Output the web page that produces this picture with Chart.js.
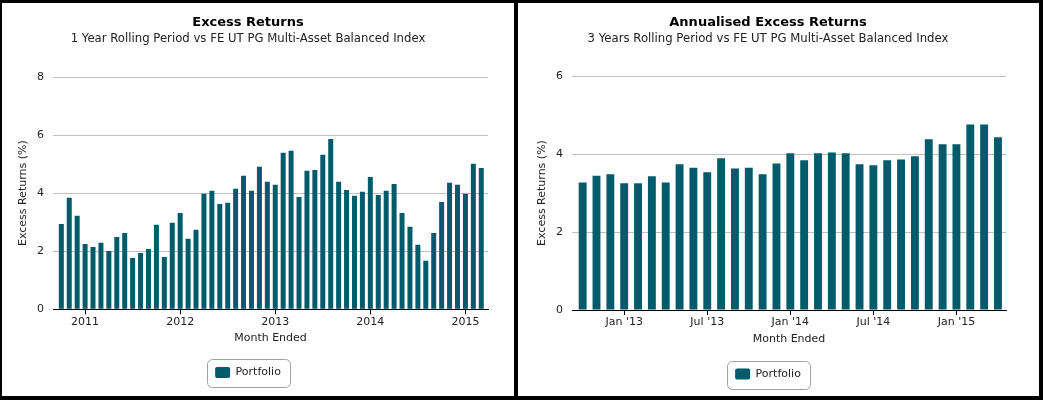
<!DOCTYPE html>
<html>
<head>
<meta charset="utf-8">
<script src="https://cdn.jsdelivr.net/npm/chart.js@4.4.1/dist/chart.umd.min.js"></script>
<style>
  html, body { margin: 0; padding: 0; background: #000; width: 1043px; height: 400px; overflow: hidden; }
  .panel { position: absolute; top: 3px; height: 393px; background: #fff; }
  #leftPanel { left: 2px; width: 512px; }
  #rightPanel { left: 518px; width: 521px; }
  canvas { display: block; }
</style>
</head>
<body>
<div class="panel" id="leftPanel"><canvas id="leftChart" width="512" height="393"></canvas></div>
<div class="panel" id="rightPanel"><canvas id="rightChart" width="521" height="393"></canvas></div>
<script>
// 1 year rolling (left chart)
let leftMonths = [
    "2010-10", "2010-11", "2010-12",
    "2011-01", "2011-02", "2011-03", "2011-04", "2011-05", "2011-06", "2011-07", "2011-08", "2011-09", "2011-10", "2011-11", "2011-12",
    "2012-01", "2012-02", "2012-03", "2012-04", "2012-05", "2012-06", "2012-07", "2012-08", "2012-09", "2012-10", "2012-11", "2012-12",
    "2013-01", "2013-02", "2013-03", "2013-04", "2013-05", "2013-06", "2013-07", "2013-08", "2013-09", "2013-10", "2013-11", "2013-12",
    "2014-01", "2014-02", "2014-03", "2014-04", "2014-05", "2014-06", "2014-07", "2014-08", "2014-09", "2014-10", "2014-11", "2014-12",
    "2015-01", "2015-02", "2015-03"
];
let leftValues = [
    2.94, 3.84, 3.22,
    2.25, 2.15, 2.29, 2.01, 2.49, 2.63, 1.77, 1.94, 2.08, 2.91, 1.80, 2.98,
    3.32, 2.43, 2.74, 3.98, 4.08, 3.63, 3.67, 4.15, 4.60, 4.08, 4.91, 4.39,
    4.29, 5.39, 5.46, 3.87, 4.77, 4.80, 5.32, 5.87, 4.39, 4.11, 3.91, 4.05,
    4.56, 3.94, 4.08, 4.32, 3.32, 2.84, 2.22, 1.67, 2.63, 3.70, 4.36, 4.29,
    3.98, 5.01, 4.87
];
let leftTickMonths = ["2011-01", "2012-01", "2013-01", "2014-01", "2015-01"];
let leftTickLabels = ["2011", "2012", "2013", "2014", "2015"];

// 3 years rolling (right chart)
let rightMonths = [
    "2012-10", "2012-11", "2012-12",
    "2013-01", "2013-02", "2013-03", "2013-04", "2013-05", "2013-06", "2013-07", "2013-08", "2013-09", "2013-10", "2013-11", "2013-12",
    "2014-01", "2014-02", "2014-03", "2014-04", "2014-05", "2014-06", "2014-07", "2014-08", "2014-09", "2014-10", "2014-11", "2014-12",
    "2015-01", "2015-02", "2015-03", "2015-04"
];
let rightValues = [
    3.27, 3.44, 3.48,
    3.25, 3.25, 3.43, 3.27, 3.74, 3.65, 3.53, 3.89, 3.63, 3.65, 3.48, 3.76,
    4.02, 3.84, 4.02, 4.04, 4.02, 3.74, 3.71, 3.84, 3.86, 3.94, 4.38, 4.25,
    4.25, 4.76, 4.76, 4.43
];
let rightTickMonths = ["2013-01", "2013-07", "2014-01", "2014-07", "2015-01"];
let rightTickLabels = ["Jan '13", "Jul '13", "Jan '14", "Jul '14", "Jan '15"];

let seriesName = "Portfolio";
let barColor = "#015b6b";

Chart.defaults.font.family = "'DejaVu Sans', Verdana, sans-serif";
Chart.defaults.font.size = 11;
Chart.defaults.color = "#222";

// rounded frame around the legend, like the original
const legendFrame = {
    id: "legendFrame",
    afterDraw(chart) {
        let hb = chart.legend && chart.legend.legendHitBoxes && chart.legend.legendHitBoxes[0];
        if (!hb) return;
        let ctx = chart.ctx;
        ctx.save();
        ctx.strokeStyle = "#a0a0a0";
        ctx.lineWidth = 1;
        ctx.beginPath();
        ctx.roundRect(Math.round(hb.left - 8) + 0.5, Math.round(hb.top - 8) + 0.5, Math.round(hb.width + 17), Math.round(hb.height + 17), 5);
        ctx.stroke();
        ctx.restore();
    }
};

function makeChart(id, o) {
    let tickIdx = o.tickMonths.map(m => o.months.indexOf(m));
    let points = o.values.map((v, i) => ({ x: i, y: v }));

    return new Chart(document.getElementById(id), {
        type: "bar",
        data: {
            datasets: [{
                label: seriesName,
                data: points,
                backgroundColor: barColor,
                borderWidth: 0,
                barPercentage: o.barPct,
                categoryPercentage: 1
            }]
        },
        options: {
            responsive: false,
            animation: false,
            layout: { padding: { left: o.padLeft, right: o.padRight, top: 0, bottom: o.padBottom } },
            plugins: {
                title: {
                    display: true,
                    text: o.title,
                    color: "#000",
                    font: { size: 13, weight: "bold" },
                    padding: { top: 11.7, bottom: 0 }
                },
                subtitle: {
                    display: true,
                    text: o.subtitle,
                    color: "#222",
                    font: { size: 11.7 },
                    padding: { top: 2.0, bottom: o.subBottom }
                },
                legend: {
                    position: "bottom",
                    labels: {
                        boxWidth: 15,
                        boxHeight: 11,
                        padding: 10,
                        color: "#222",
                        useBorderRadius: true,
                        borderRadius: 2
                    }
                },
                tooltip: { enabled: false }
            },
            scales: {
                x: {
                    type: "linear",
                    min: o.xMin,
                    max: o.xMax,
                    offset: false,
                    afterBuildTicks: s => { s.ticks = tickIdx.map(v => ({ value: v })); },
                    afterFit: s => { s.height = o.xHeight; },
                    ticks: {
                        autoSkip: false,
                        maxRotation: 0,
                        padding: 1,
                        color: "#222",
                        callback: v => o.tickLabels[tickIdx.indexOf(v)]
                    },
                    grid: { offset: false, drawOnChartArea: false, drawTicks: true, tickLength: 5, color: "#000" },
                    border: { display: true, color: "#000", width: 1 },
                    title: { display: true, text: "Month Ended", color: "#222", font: { size: 11 }, padding: { top: 0, bottom: o.xTitlePad } }
                },
                y: {
                    min: 0,
                    max: o.yMax,
                    ticks: { stepSize: 2, padding: 9, color: "#222" },
                    afterFit: s => { s.width = o.yWidth; },
                    grid: { color: "#c0c0c0", drawTicks: false },
                    border: { display: false },
                    title: { display: true, text: "Excess Returns (%)", color: "#222", font: { size: 11 }, padding: { top: o.yTitlePad, bottom: 0 } }
                }
            }
        },
        plugins: [legendFrame]
    });
}

makeChart("leftChart", {
    months: leftMonths, values: leftValues, tickMonths: leftTickMonths, tickLabels: leftTickLabels,
    title: "Excess Returns",
    subtitle: "1 Year Rolling Period vs FE UT PG Multi-Asset Balanced Index",
    yMax: 8, xMin: -1.05, xMax: 53.85, barPct: 0.63,
    padLeft: 6, padRight: 26, padBottom: 8, subBottom: 30.7,
    xHeight: 47.7, xTitlePad: 11.9, yWidth: 45, yTitlePad: 8.2
});

makeChart("rightChart", {
    months: rightMonths, values: rightValues, tickMonths: rightTickMonths, tickLabels: rightTickLabels,
    title: "Annualised Excess Returns",
    subtitle: "3 Years Rolling Period vs FE UT PG Multi-Asset Balanced Index",
    yMax: 6, xMin: -0.77, xMax: 30.58, barPct: 0.57,
    padLeft: 12, padRight: 33, padBottom: 6.5, subBottom: 29.7,
    xHeight: 48.5, xTitlePad: 12.4, yWidth: 42, yTitlePad: 5.1
});
</script>
</body>
</html>
